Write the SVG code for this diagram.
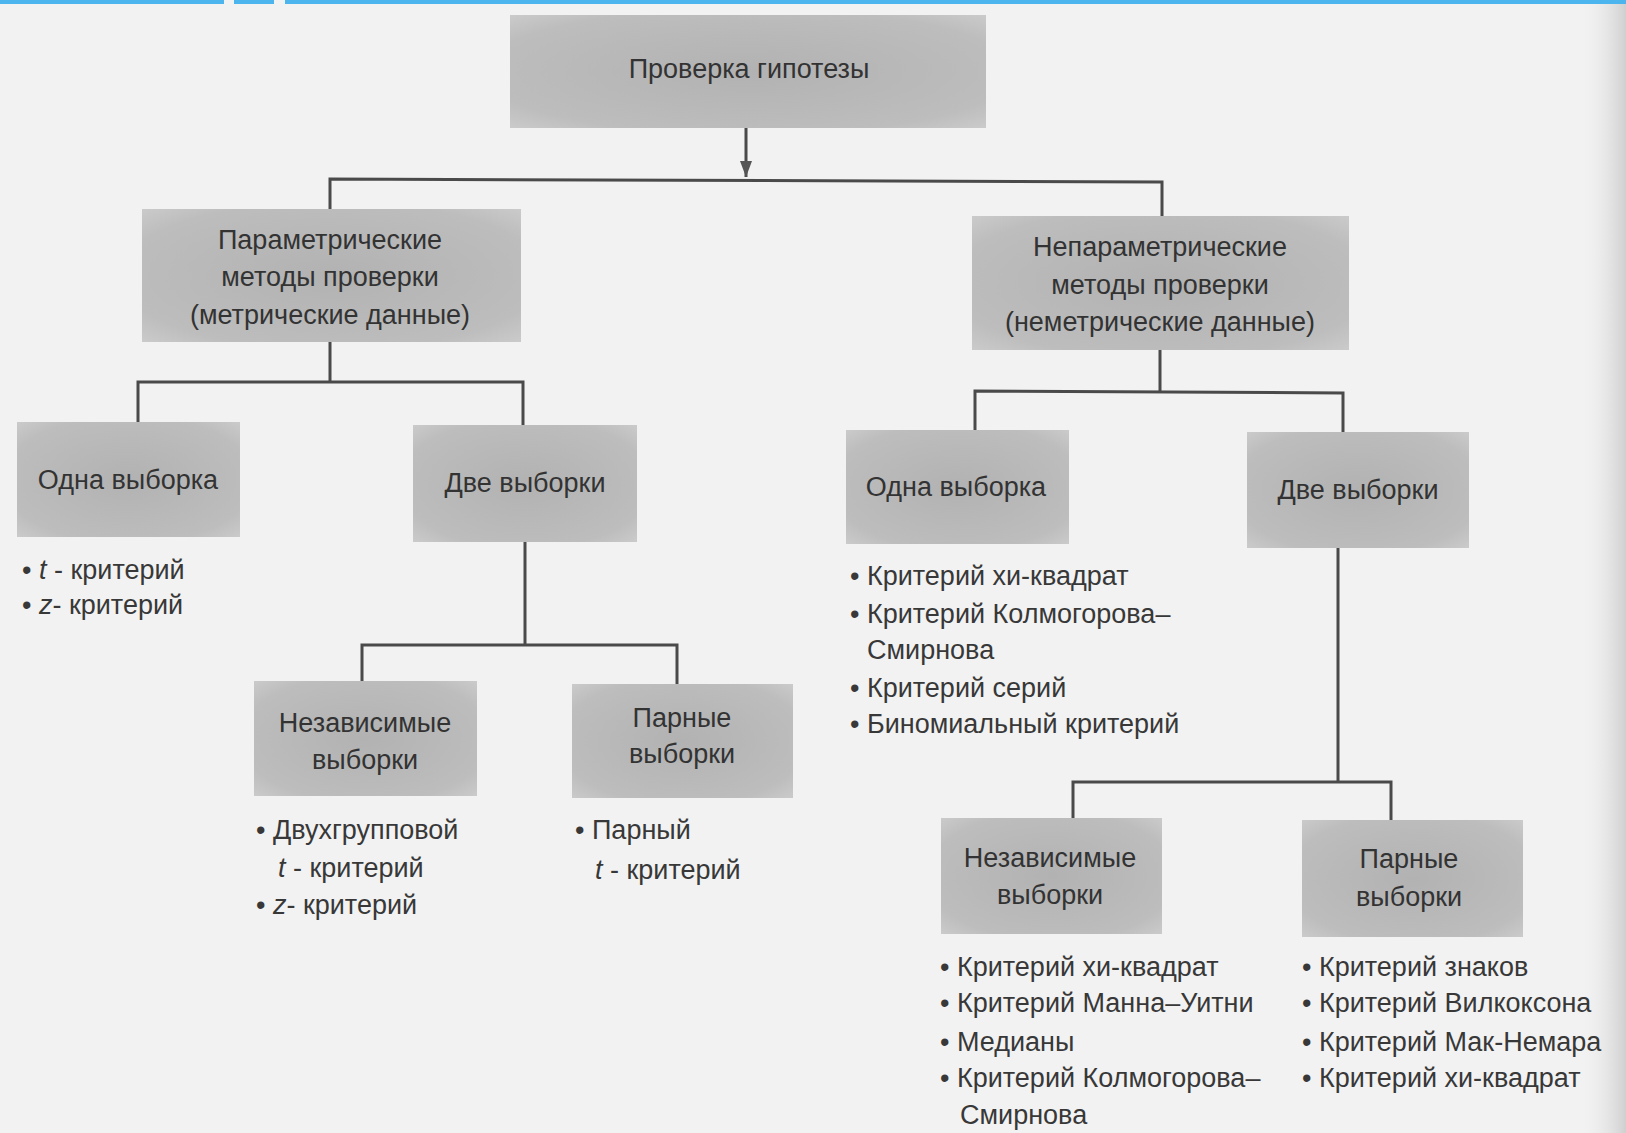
<svg xmlns="http://www.w3.org/2000/svg" width="1626" height="1133" viewBox="0 0 1626 1133">
<defs>
<radialGradient id="boxg" cx="50%" cy="50%" r="70%">
<stop offset="0" stop-color="#b2b2b2"/>
<stop offset="0.8" stop-color="#bdbdbd"/>
<stop offset="1" stop-color="#cacaca"/>
</radialGradient>
<linearGradient id="edge" x1="0" x2="1" y1="0" y2="0">
<stop offset="0" stop-color="#f1f1f1" stop-opacity="0"/>
<stop offset="1" stop-color="#cfcfcf"/>
</linearGradient>
<marker id="arr" viewBox="0 0 16 12" refX="16" refY="6" markerWidth="16" markerHeight="12" markerUnits="userSpaceOnUse" orient="auto">
<path d="M0,0 L16,6 L0,12 Z" fill="#555"/>
</marker>
<style>
.box{fill:url(#boxg);}
.bt{font-family:"Liberation Sans","DejaVu Sans",sans-serif;font-size:27px;fill:#333;text-anchor:middle;}
.li{font-family:"Liberation Sans","DejaVu Sans",sans-serif;font-size:27px;fill:#383838;}
.it{font-style:italic;}
.ln{stroke:#4a4a4a;stroke-width:3;fill:none;}
</style>
</defs>
<rect x="0" y="0" width="1626" height="1133" fill="#f2f2f2"/>
<rect x="1580" y="0" width="46" height="1133" fill="url(#edge)"/>
<g id="topbar" fill="#4db5ee">
<rect x="0" y="0" width="224" height="4"/>
<rect x="234" y="0" width="40" height="4"/>
<rect x="285" y="0" width="1341" height="4"/>
</g>

<g id="connectors">
<line class="ln" x1="746" y1="128" x2="746" y2="177" marker-end="url(#arr)"/>
<polyline class="ln" points="330,209 330,179 1162,182 1162,216"/>
<polyline class="ln" points="330,342 330,382"/>
<polyline class="ln" points="138,422 138,382 523,382 523,425"/>
<polyline class="ln" points="1160,350 1160,391"/>
<polyline class="ln" points="975,430 975,391 1343,393 1343,432"/>
<polyline class="ln" points="525,542 525,645"/>
<polyline class="ln" points="362,681 362,645 677,645 677,684"/>
<polyline class="ln" points="1338,548 1338,782"/>
<polyline class="ln" points="1073,818 1073,782 1391,782 1391,820"/>
</g>

<g id="root">
<rect class="box" x="510" y="15" width="476" height="113"/>
<text class="bt" x="749" y="78">Проверка гипотезы</text>
</g>

<g id="param">
<rect class="box" x="142" y="209" width="379" height="133"/>
<text class="bt" x="330" y="249">Параметрические</text>
<text class="bt" x="330" y="286">методы проверки</text>
<text class="bt" x="330" y="324">(метрические данные)</text>
</g>

<g id="nonparam">
<rect class="box" x="972" y="216" width="377" height="134"/>
<text class="bt" x="1160" y="256">Непараметрические</text>
<text class="bt" x="1160" y="294">методы проверки</text>
<text class="bt" x="1160" y="331">(неметрические данные)</text>
</g>

<g id="one-left">
<rect class="box" x="17" y="422" width="223" height="115"/>
<text class="bt" x="128" y="489">Одна выборка</text>
<text class="li" x="22" y="579">• <tspan class="it">t</tspan> - критерий</text>
<text class="li" x="22" y="614">• <tspan class="it">z</tspan>- критерий</text>
</g>

<g id="two-left">
<rect class="box" x="413" y="425" width="224" height="117"/>
<text class="bt" x="525" y="492">Две выборки</text>
</g>

<g id="indep-left">
<rect class="box" x="254" y="681" width="223" height="115"/>
<text class="bt" x="365" y="732">Независимые</text>
<text class="bt" x="365" y="769">выборки</text>
<text class="li" x="256" y="839">• Двухгрупповой</text>
<text class="li" x="278" y="877"><tspan class="it">t</tspan> - критерий</text>
<text class="li" x="256" y="914">• <tspan class="it">z</tspan>- критерий</text>
</g>

<g id="paired-left">
<rect class="box" x="572" y="684" width="221" height="114"/>
<text class="bt" x="682" y="727">Парные</text>
<text class="bt" x="682" y="763">выборки</text>
<text class="li" x="575" y="839">• Парный</text>
<text class="li" x="595" y="879"><tspan class="it">t</tspan> - критерий</text>
</g>

<g id="one-right">
<rect class="box" x="846" y="430" width="223" height="114"/>
<text class="bt" x="956" y="496">Одна выборка</text>
<text class="li" x="850" y="585">• Критерий хи-квадрат</text>
<text class="li" x="850" y="623">• Критерий Колмогорова–</text>
<text class="li" x="867" y="659">Смирнова</text>
<text class="li" x="850" y="697">• Критерий серий</text>
<text class="li" x="850" y="733">• Биномиальный критерий</text>
</g>

<g id="two-right">
<rect class="box" x="1247" y="432" width="222" height="116"/>
<text class="bt" x="1358" y="499">Две выборки</text>
</g>

<g id="indep-right">
<rect class="box" x="941" y="818" width="221" height="116"/>
<text class="bt" x="1050" y="867">Независимые</text>
<text class="bt" x="1050" y="904">выборки</text>
<text class="li" x="940" y="976">• Критерий хи-квадрат</text>
<text class="li" x="940" y="1012">• Критерий Манна–Уитни</text>
<text class="li" x="940" y="1051">• Медианы</text>
<text class="li" x="940" y="1087">• Критерий Колмогорова–</text>
<text class="li" x="960" y="1124">Смирнова</text>
</g>

<g id="paired-right">
<rect class="box" x="1302" y="820" width="221" height="117"/>
<text class="bt" x="1409" y="868">Парные</text>
<text class="bt" x="1409" y="906">выборки</text>
<text class="li" x="1302" y="976">• Критерий знаков</text>
<text class="li" x="1302" y="1012">• Критерий Вилкоксона</text>
<text class="li" x="1302" y="1051">• Критерий Мак-Немара</text>
<text class="li" x="1302" y="1087">• Критерий хи-квадрат</text>
</g>
</svg>
